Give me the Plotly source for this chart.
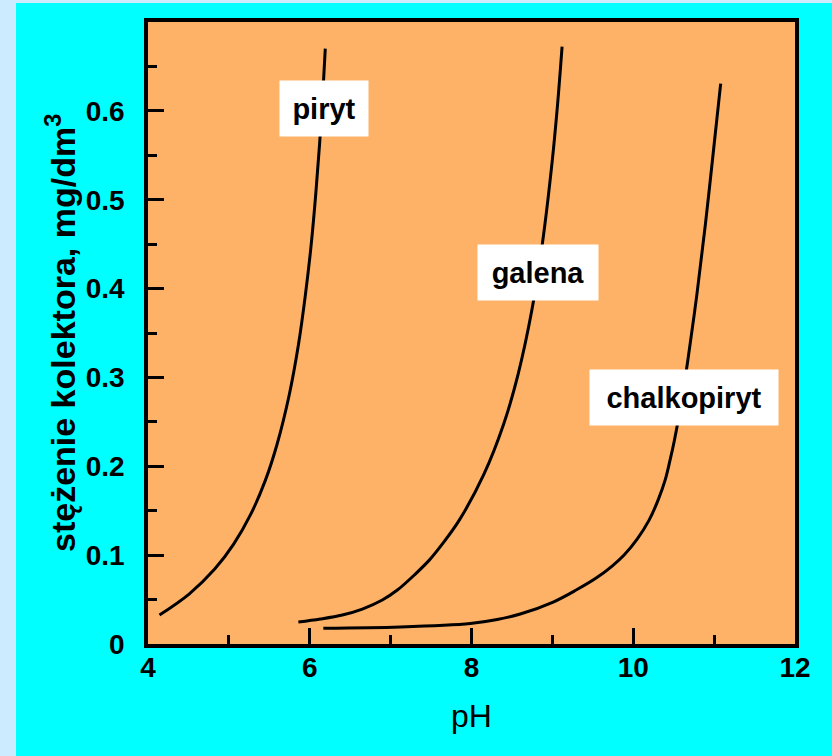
import plotly.graph_objects as go

# ---- data ----
piryt_ph = [4.142, 4.508, 4.825, 5.059, 5.271, 5.452, 5.596, 5.748, 5.861, 5.947, 6.018, 6.074, 6.121, 6.161, 6.192]
piryt_c = [0.0326, 0.0562, 0.0843, 0.1124, 0.1461, 0.1844, 0.2248, 0.2811, 0.3373, 0.3935, 0.4497, 0.5059, 0.5621, 0.6183, 0.670]

galena_ph = [5.859, 6.131, 6.403, 6.650, 6.897, 7.083, 7.305, 7.478, 7.638, 7.849, 8.154, 8.397, 8.576, 8.746,
             8.875, 8.995, 9.064, 9.120]
galena_c = [0.0247, 0.0281, 0.0326, 0.0393, 0.0495, 0.0607, 0.0787, 0.0944, 0.1124, 0.1394, 0.1911, 0.2473, 0.3035,
            0.3755, 0.4497, 0.5408, 0.6071, 0.6723]

chalko_ph = [6.168, 7.120, 7.985, 8.318, 8.603, 9.010, 9.294, 9.541, 9.739, 9.887, 10.048, 10.196, 10.307, 10.394,
             10.455, 10.509, 10.599, 10.675, 10.787, 10.892, 10.992, 11.081]
chalko_c = [0.0177, 0.0191, 0.0230, 0.0275, 0.0337, 0.0472, 0.0607, 0.0742, 0.0877, 0.1001, 0.1180, 0.1394, 0.1619,
            0.1844, 0.2069, 0.2293, 0.2743, 0.3193, 0.3935, 0.4722, 0.5554, 0.6307]

labels = ["piryt", "galena", "chalkopiryt"]
label_ph = [6.172, 8.818, 10.628]
label_c = [0.603, 0.4177, 0.277]
label_w = [88, 120, 188]

x_ticks = [4, 6, 8, 10, 12]
y_ticks = [0, 0.1, 0.2, 0.3, 0.4, 0.5, 0.6]
y_ticktext = ["0", "0.1", "0.2", "0.3", "0.4", "0.5", "0.6"]

x_title = "pH"
y_title = "stężenie kolektora, mg/dm<sup>3</sup>"

# ---- layout geometry ----
W, H = 832, 756
ML, MR, MT, MB = 148, 37, 22, 112
PW, PH_ = W - ML - MR, H - MT - MB


def px_x(px):
    return (px - ML) / PW


def px_y(py):
    return (H - MB - py) / PH_


fig = go.Figure()
for xs, ys in [(piryt_ph, piryt_c), (galena_ph, galena_c), (chalko_ph, chalko_c)]:
    fig.add_trace(go.Scatter(x=xs, y=ys, mode="lines",
                             line=dict(color="black", width=3, shape="spline", smoothing=1.0),
                             showlegend=False, hoverinfo="skip"))

annotations = []
for t, xv, yv, w in zip(labels, label_ph, label_c, label_w):
    annotations.append(dict(x=xv, y=yv, xref="x", yref="y", text=t, showarrow=False,
                            font=dict(family="Liberation Sans, Arial", size=29, color="black", weight="bold"),
                            bgcolor="white", width=w, height=55, borderpad=0,
                            xanchor="center", yanchor="middle", align="center", valign="middle"))

annotations.append(dict(x=px_x(60), y=px_y(333), xref="paper", yref="paper", text=y_title,
                        textangle=-90, showarrow=False, xanchor="center", yanchor="middle",
                        font=dict(family="Liberation Sans, Arial", size=34, color="black", weight="bold")))
annotations.append(dict(x=px_x(471), y=px_y(716), xref="paper", yref="paper", text=x_title,
                        showarrow=False, xanchor="center", yanchor="middle",
                        font=dict(family="Liberation Sans, Arial", size=32, color="black")))

shapes = [
    dict(type="rect", xref="paper", yref="paper", x0=px_x(0), x1=px_x(16), y0=px_y(H), y1=px_y(0),
         fillcolor="#CCEBFF", line=dict(width=0), layer="below"),
    dict(type="rect", xref="paper", yref="paper", x0=px_x(0), x1=px_x(W), y0=px_y(3), y1=px_y(0),
         fillcolor="#CCEBFF", line=dict(width=0), layer="below"),
]

tickfont = dict(family="Liberation Sans, Arial", size=28, color="black", weight="bold")

fig.update_layout(
    width=W, height=H,
    margin=dict(l=ML, r=MR, t=MT, b=MB, pad=0),
    paper_bgcolor="#00FFFF",
    plot_bgcolor="#FDB268",
    annotations=annotations,
    shapes=shapes,
    xaxis=dict(range=[4, 12], tickvals=x_ticks, ticks="inside", ticklen=16, tickwidth=3,
               tickcolor="black", showline=True, linecolor="black", linewidth=3.5, mirror=True,
               showgrid=False, zeroline=False, tickfont=tickfont, ticklabelstandoff=-4,
               minor=dict(dtick=1, ticks="inside", ticklen=9, tickwidth=3, tickcolor="black", showgrid=False)),
    yaxis=dict(range=[0, 0.7], tickvals=y_ticks, ticktext=y_ticktext, ticks="inside", ticklen=16,
               tickwidth=3, tickcolor="black", showline=True, linecolor="black", linewidth=3.5,
               mirror=True, showgrid=False, zeroline=False, tickfont=tickfont, ticklabelstandoff=14,
               minor=dict(dtick=0.05, tick0=0, ticks="inside", ticklen=9, tickwidth=3, tickcolor="black",
                          showgrid=False)),
)

fig.write_html("out.html")
